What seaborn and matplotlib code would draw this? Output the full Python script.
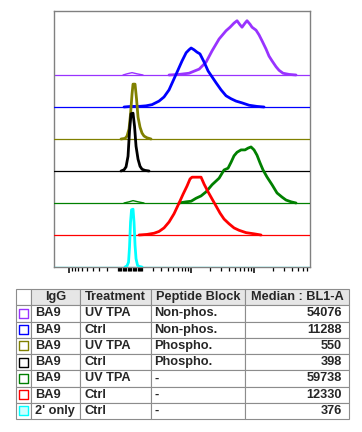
import numpy as np
import pandas as pd
import matplotlib
matplotlib.use("Agg")
import matplotlib.pyplot as plt
import seaborn as sns
from matplotlib.ticker import FixedLocator, NullFormatter
from matplotlib.table import Table

sns.set_style("white")
plt.rcParams["font.family"] = ["Liberation Sans", "DejaVu Sans"]

# BL1-A intensity vs % of mode (top row first)
purple_x = [-561, -239, 159, 561, 1070, 4253, 6323, 9250, 13510, 17450, 21720, 28060, 36240, 41950,
            48550, 54190, 60460, 65040, 72590, 78080, 87150, 93770, 108500, 121100, 135100, 156400,
            174500, 194700, 225400, 251500, 291100, 362400, 468100]
purple_y = [0, 2, 4, 2, 0, 0, 1, 3, 10, 22, 41, 61, 75, 81, 88, 92, 85, 81, 88, 92, 86, 81, 76, 68,
            58, 44, 32, 24, 14, 8, 3, 1, 0]

blue_x = [-480, 79, 727, 1343, 1938, 2755, 3446, 4253, 4997, 5851, 7096, 8300, 9250, 10000, 11150,
          12450, 13900, 16220, 18770, 21720, 25150, 30200, 36240, 43520, 52240, 65040, 84010,
          112500, 145400]
blue_y = [0, 1, 1, 2, 4, 10, 17, 29, 44, 59, 78, 92, 97, 100, 97, 93, 90, 76, 61, 51, 41, 29, 19, 14,
          10, 7, 3, 1, 0]

olive_x = [-727, -399, -238, -79, 40, 159, 238, 399, 520, 644, 811, 983, 1159, 1437, 1834]
olive_y = [0, 1, 5, 17, 42, 76, 93, 93, 68, 37, 20, 10, 5, 2, 0]

black_x = [-727, -480, -318, -159, -40, 79, 238, 358, 480, 644, 811, 983, 1250, 1631]
black_y = [0, 2, 7, 25, 68, 97, 98, 76, 42, 20, 8, 3, 1, 0]

green_x = [-480, -79, 238, 644, 1159, 6323, 8300, 10000, 12000, 14470, 17450, 21720, 28060, 33690,
           38990, 43520, 48550, 54190, 62720, 72590, 80990, 90360, 100900, 112500, 125500, 140100,
           162200, 194700, 233700, 280600, 324900, 389900, 468100]
green_y = [0, 2, 4, 2, 0, 0, 2, 3, 8, 12, 19, 31, 42, 56, 59, 69, 80, 86, 90, 90, 93, 95, 90, 81, 68,
           56, 44, 31, 17, 10, 5, 2, 0]

red_x = [727, 1437, 2157, 2755, 3446, 4253, 5201, 6323, 7372, 8579, 9602, 10350, 12000, 14470, 16220,
         18770, 21720, 25150, 29110, 33690, 40440, 48550, 58310, 75290, 100900, 130300]
red_y = [0, 1, 3, 6, 12, 22, 36, 54, 69, 83, 95, 98, 98, 98, 86, 73, 61, 49, 37, 27, 19, 12, 8, 4, 2, 0]

cyan_x = [-399, -238, -119, -40, 40, 119, 238, 318, 399, 480, 602, 727, 983]
cyan_y = [0, 2, 8, 34, 76, 97, 98, 76, 37, 14, 3, 1, 0]

colors = ["#9933ff", "#0000ff", "#808000", "#000000", "#008000", "#ff0000", "#00ffff"]
curves = [(purple_x, purple_y), (blue_x, blue_y), (olive_x, olive_y), (black_x, black_y),
          (green_x, green_y), (red_x, red_y), (cyan_x, cyan_y)]

# table
igg = ["BA9", "BA9", "BA9", "BA9", "BA9", "BA9", "2' only"]
treatment = ["UV TPA", "Ctrl", "UV TPA", "Ctrl", "UV TPA", "Ctrl", "Ctrl"]
peptide = ["Non-phos.", "Non-phos.", "Phospho.", "Phospho.", "-", "-", "-"]
median = [54076, 11288, 550, 398, 59738, 12330, 376]
headers = ["", "IgG", "Treatment", "Peptide Block", "Median : BL1-A"]

fig = plt.figure(figsize=(3.62, 4.32), dpi=100)
ax = fig.add_axes([54 / 362, 165 / 432, 256 / 362, 256 / 432])

n = len(curves)
scale = 59 / 32 / 100  # % of mode -> row units
for i, ((xs, ys), c) in enumerate(zip(curves, colors)):
    off = n - 1 - i
    ax.axhline(off, color=c, lw=0.9, zorder=2 + i)
    ys = np.array(ys)
    # break the trace where it sits on the baseline
    brk = np.r_[False, (ys[1:] == 0) & (ys[:-1] == 0)]
    df = pd.DataFrame({"x": xs, "y": off + ys * scale, "part": np.cumsum(brk)})
    peak = df.groupby("part")["y"].transform("max") - off
    for big, sub in df.groupby(peak > 0.2):
        sns.lineplot(data=sub, x="x", y="y", units="part", ax=ax, color=c,
                     lw=2.0 if big else 1.0, sort=False, estimator=None, zorder=3 + i)

ax.set_xscale("asinh", linear_width=2170)
ax.set_xlim(-17400, 780000)
ax.set_ylim(0, 8)
ax.set_xlabel("")
ax.set_ylabel("")
ax.set_yticks([])

major = [-1e4, 1e4, 1e5]
minor = []
for d in [1e2, 1e3, 1e4, 1e5]:
    for k in range(1, 10):
        v = k * d
        if v not in major:
            minor.append(v)
        if -v not in major and -v > -17400:
            minor.append(-v)
minor.append(0)
ax.xaxis.set_major_locator(FixedLocator(major))
ax.xaxis.set_minor_locator(FixedLocator([m for m in minor if m < 780000]))
ax.xaxis.set_major_formatter(NullFormatter())
ax.xaxis.set_minor_formatter(NullFormatter())
ax.tick_params(axis="x", which="major", direction="out", length=4.5, width=1.1, color="black", bottom=True)
ax.tick_params(axis="x", which="minor", direction="out", length=3, width=0.9, color="black", bottom=True)
for s in ax.spines.values():
    s.set_color("#808080")
    s.set_linewidth(1.0)

# legend table
tax = fig.add_axes([16 / 362, 13 / 432, 333 / 362, 130 / 432])
tax.set_axis_off()
tax.set_xlim(0, 1)
tax.set_ylim(0, 1)
col_w = np.array([15, 49, 71, 94, 104]) / 333
row_h = 1 / 8
tb = Table(tax, bbox=[0, 0, 1, 1])
for j, h in enumerate(headers):
    fc = "white" if j == 0 else "#e6e6e6"
    cell = tb.add_cell(0, j, col_w[j], row_h, text=h, loc="center", facecolor=fc, edgecolor="#8c8c8c")
    cell.get_text().set_fontweight("bold")
pads = [0.1, 0.08, 0.07, 0.032, 0.067]
for r in range(len(igg)):
    vals = ["", igg[r], treatment[r], peptide[r], str(median[r])]
    for j, v in enumerate(vals):
        loc = "right" if j == 4 else "left"
        cell = tb.add_cell(r + 1, j, col_w[j], row_h, text=v, loc=loc, facecolor="white",
                           edgecolor="#8c8c8c")
        cell.PAD = pads[j]
        cell.get_text().set_fontweight("bold")
tb.auto_set_font_size(False)
tb.set_fontsize(9.2)
for c in tb.get_celld().values():
    c.set_linewidth(0.8)
tax.add_table(tb)

box_y = [1 - (r + 1.5) * row_h for r in range(len(igg))]
face = ["white"] * 6 + ["#ccffff"]
tax.scatter([7.5 / 333] * len(igg), box_y, marker="s", s=42, facecolors=face,
            edgecolors=colors, linewidths=1.0, zorder=10)

fig.savefig("out.png", dpi=100)
